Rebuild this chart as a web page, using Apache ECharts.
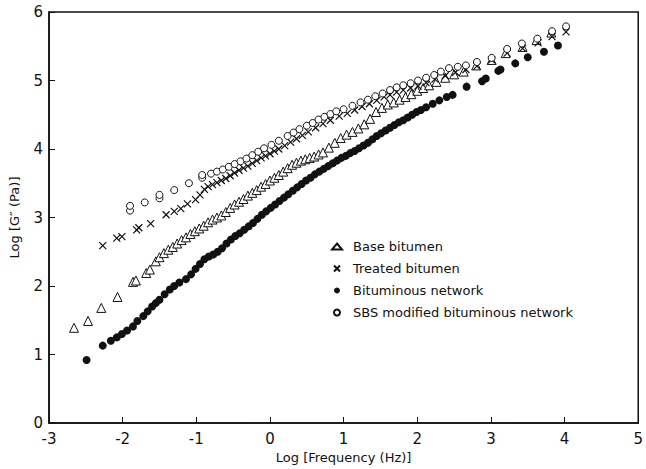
<!DOCTYPE html>
<html>
<head>
<meta charset="utf-8">
<script src="https://cdn.jsdelivr.net/npm/echarts@6/dist/echarts.min.js"></script>
<style>
  html, body { margin: 0; padding: 0; background: #fff; }
  #chart { width: 646px; height: 469px; }
</style>
</head>
<body>
<div id="chart"></div>
<script>
// log frequency (Hz) vs log G'' (Pa)
var baseBitumen = [
  [-2.66,1.39],[-2.47,1.49],[-2.29,1.68],[-2.07,1.84],[-1.86,2.06],[-1.82,2.08],[-1.68,2.19],[-1.63,2.24],
  [-1.55,2.36],[-1.50,2.42],[-1.44,2.48],[-1.38,2.53],[-1.32,2.57],[-1.26,2.62],[-1.20,2.67],[-1.14,2.71],
  [-1.08,2.76],[-1.02,2.80],[-0.96,2.84],[-0.90,2.88],[-0.84,2.93],[-0.78,2.97],[-0.72,3.00],[-0.66,3.03],
  [-0.60,3.08],[-0.54,3.14],[-0.48,3.19],[-0.42,3.23],[-0.36,3.27],[-0.30,3.32],[-0.24,3.36],[-0.18,3.40],
  [-0.12,3.45],[-0.06,3.49],[0.00,3.54],[0.06,3.58],[0.12,3.62],[0.18,3.67],[0.24,3.72],[0.30,3.77],
  [0.36,3.80],[0.42,3.83],[0.48,3.85],[0.54,3.87],[0.60,3.89],[0.66,3.92],[0.72,3.95],[0.80,4.02],
  [0.88,4.09],[0.96,4.16],[1.04,4.21],[1.12,4.25],[1.20,4.30],[1.28,4.36],[1.36,4.44],[1.44,4.54],
  [1.52,4.60],[1.60,4.65],[1.68,4.68],[1.76,4.72],[1.84,4.76],[1.92,4.80],[2.00,4.85],[2.08,4.89],
  [2.16,4.93],[2.26,4.98],[2.38,5.04],[2.50,5.09],[2.63,5.13],[2.80,5.22],[3.01,5.30],[3.20,5.40],
  [3.43,5.49],[3.62,5.59],[3.82,5.70]
];
var treatedBitumen = [
  [-2.27,2.59],[-2.08,2.70],[-2.01,2.72],[-1.81,2.82],[-1.78,2.85],[-1.62,2.91],[-1.41,3.04],[-1.30,3.09],
  [-1.21,3.13],[-1.12,3.20],[-1.01,3.26],[-0.95,3.33],[-0.89,3.41],[-0.84,3.45],[-0.78,3.48],[-0.72,3.51],
  [-0.66,3.54],[-0.60,3.57],[-0.54,3.61],[-0.48,3.65],[-0.42,3.69],[-0.36,3.72],[-0.30,3.75],[-0.24,3.79],
  [-0.18,3.83],[-0.12,3.87],[-0.06,3.90],[0.00,3.93],[0.06,3.97],[0.12,4.00],[0.20,4.05],[0.28,4.10],
  [0.36,4.15],[0.44,4.20],[0.52,4.25],[0.62,4.31],[0.72,4.37],[0.82,4.42],[0.94,4.48],[1.05,4.52],
  [1.15,4.57],[1.25,4.62],[1.35,4.66],[1.45,4.71],[1.55,4.76],[1.63,4.79],[1.72,4.83],[1.81,4.86],
  [1.91,4.89],[2.01,4.92],[2.12,4.97],[2.24,5.02],[2.38,5.07],[2.52,5.12],[2.66,5.16],[2.81,5.21],
  [3.01,5.30],[3.22,5.40],[3.43,5.47],[3.64,5.55],[3.83,5.64],[4.02,5.71]
];
var bitNetwork = [
  [-2.49,0.92],[-2.27,1.13],[-2.16,1.20],[-2.08,1.25],[-2.01,1.30],[-1.94,1.35],[-1.86,1.41],[-1.80,1.49],
  [-1.72,1.56],[-1.66,1.63],[-1.60,1.70],[-1.55,1.75],[-1.50,1.80],[-1.43,1.88],[-1.36,1.95],[-1.30,2.00],
  [-1.23,2.05],[-1.14,2.10],[-1.07,2.17],[-1.01,2.25],[-0.95,2.32],[-0.89,2.39],[-0.83,2.43],[-0.77,2.46],
  [-0.71,2.50],[-0.65,2.55],[-0.59,2.62],[-0.53,2.68],[-0.47,2.73],[-0.41,2.77],[-0.35,2.82],[-0.29,2.87],
  [-0.23,2.92],[-0.17,2.98],[-0.11,3.04],[-0.05,3.09],[0.01,3.14],[0.07,3.19],[0.13,3.24],[0.19,3.29],
  [0.25,3.34],[0.31,3.39],[0.37,3.44],[0.43,3.49],[0.49,3.54],[0.55,3.58],[0.61,3.63],[0.67,3.67],
  [0.73,3.71],[0.79,3.75],[0.85,3.79],[0.91,3.83],[0.97,3.87],[1.03,3.90],[1.09,3.94],[1.15,3.97],
  [1.21,4.01],[1.27,4.05],[1.33,4.09],[1.39,4.14],[1.45,4.19],[1.51,4.23],[1.57,4.27],[1.63,4.31],
  [1.69,4.35],[1.75,4.39],[1.81,4.42],[1.87,4.46],[1.93,4.50],[1.99,4.54],[2.05,4.57],[2.12,4.61],
  [2.21,4.66],[2.30,4.71],[2.40,4.76],[2.48,4.79],[2.67,4.91],[2.88,4.99],[2.93,5.03],[3.10,5.14],
  [3.13,5.16],[3.33,5.25],[3.50,5.34],[3.72,5.42],[3.91,5.51]
];
var sbsNetwork = [
  [-1.90,3.10],[-1.90,3.17],[-1.70,3.22],[-1.50,3.28],[-1.50,3.33],[-1.30,3.40],[-1.10,3.50],[-0.92,3.58],
  [-0.92,3.62],[-0.80,3.64],[-0.72,3.67],[-0.64,3.70],[-0.56,3.74],[-0.48,3.78],[-0.40,3.82],[-0.32,3.86],
  [-0.24,3.91],[-0.16,3.96],[-0.08,4.01],[0.02,4.06],[0.12,4.12],[0.24,4.19],[0.32,4.24],[0.40,4.29],
  [0.50,4.34],[0.58,4.38],[0.66,4.43],[0.74,4.47],[0.82,4.51],[0.90,4.55],[1.00,4.58],[1.12,4.63],
  [1.23,4.68],[1.33,4.72],[1.43,4.77],[1.53,4.81],[1.63,4.86],[1.72,4.90],[1.81,4.93],[1.91,4.96],
  [2.01,5.00],[2.12,5.04],[2.23,5.08],[2.32,5.13],[2.43,5.18],[2.55,5.20],[2.66,5.22],[2.81,5.27],
  [3.01,5.33],[3.22,5.46],[3.42,5.54],[3.63,5.61],[3.83,5.72],[4.02,5.79]
];
var seriesNames = ['Base bitumen', 'Treated bitumen', 'Bituminous network', 'SBS modified bituminous network'];

var ink = '#111';
var font = 'DejaVu Sans';
var crossPath = 'path://M0,0L10,10M10,0L0,10';

var chart = echarts.init(document.getElementById('chart'), null, { renderer: 'svg' });
chart.setOption({
  animation: false,
  grid: { left: 48, right: 2, top: 12, bottom: 45, show: true, borderColor: ink, borderWidth: 1.5 },
  legend: {
    orient: 'vertical',
    left: 326,
    top: 235,
    itemWidth: 10,
    itemHeight: 6,
    itemGap: 9,
    data: seriesNames,
    textStyle: { color: ink, fontFamily: font, fontSize: 13, padding: [0, 0, 0, 6] }
  },
  xAxis: {
    type: 'value',
    min: -3,
    max: 5,
    interval: 1,
    name: 'Log [Frequency (Hz)]',
    nameLocation: 'middle',
    nameGap: 28,
    nameTextStyle: { color: ink, fontFamily: font, fontSize: 13 },
    axisLine: { show: true, onZero: false, lineStyle: { color: ink, width: 1.5 } },
    axisTick: { inside: true, length: 6, lineStyle: { color: ink } },
    axisLabel: { color: ink, fontFamily: font, fontSize: 15, margin: 8 },
    splitLine: { show: false }
  },
  yAxis: {
    type: 'value',
    min: 0,
    max: 6,
    interval: 1,
    name: 'Log [G\u2033 (Pa)]',
    nameLocation: 'middle',
    nameGap: 28,
    nameTextStyle: { color: ink, fontFamily: font, fontSize: 13 },
    axisLine: { show: true, onZero: false, lineStyle: { color: ink, width: 1.5 } },
    axisTick: { inside: true, length: 6, lineStyle: { color: ink } },
    axisLabel: { color: ink, fontFamily: font, fontSize: 15, margin: 6 },
    splitLine: { show: false }
  },
  series: [
    {
      name: seriesNames[0],
      type: 'scatter',
      data: baseBitumen,
      symbol: 'triangle',
      symbolSize: 9,
      itemStyle: { color: '#fff', borderColor: ink, borderWidth: 1, opacity: 1 }
    },
    {
      name: seriesNames[1],
      type: 'scatter',
      data: treatedBitumen,
      symbol: crossPath,
      symbolSize: 7,
      itemStyle: { color: 'none', borderColor: ink, borderWidth: 1.2, opacity: 1 }
    },
    {
      name: seriesNames[2],
      type: 'scatter',
      data: bitNetwork,
      symbol: 'circle',
      symbolSize: 8,
      itemStyle: { color: ink, opacity: 1 }
    },
    {
      name: seriesNames[3],
      type: 'scatter',
      data: sbsNetwork,
      symbol: 'circle',
      symbolSize: 7,
      itemStyle: { color: '#fff', borderColor: ink, borderWidth: 1, opacity: 1 }
    }
  ]
});
</script>
</body>
</html>
